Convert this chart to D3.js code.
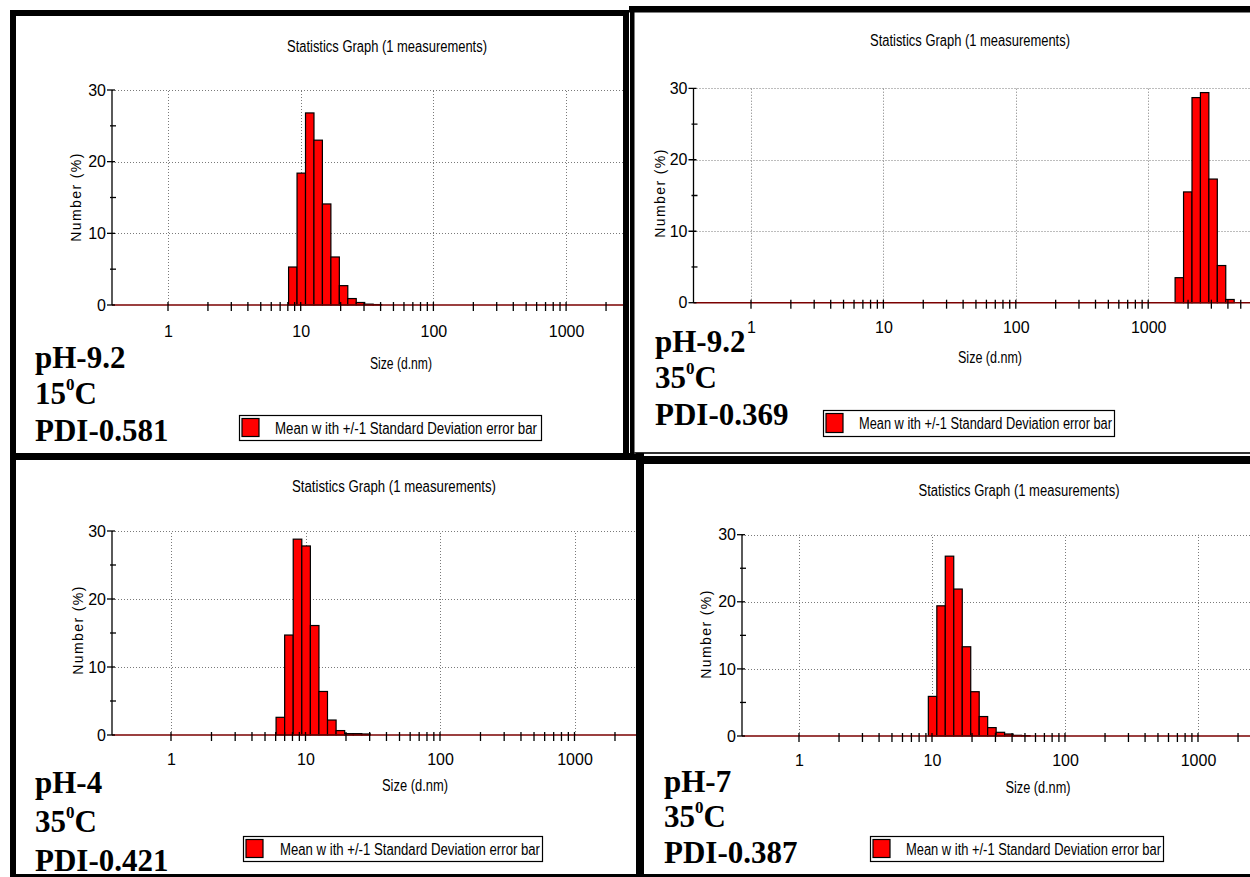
<!DOCTYPE html>
<html><head><meta charset="utf-8">
<script src="https://cdn.jsdelivr.net/npm/d3@7"></script>
<style>
body{margin:0;background:#fff;}
svg{display:block;}
</style></head><body>
<svg id="c" width="1250" height="877"></svg>
<script>
// ---------------- DATA ----------------
const chartTitle = "Statistics Graph (1 measurements)";
const xAxisTitle = "Size (d.nm)";
const yAxisTitle = "Number (%)";
const legendText = "Mean w ith +/-1 Standard Deviation error bar";
const yTickValues = [0, 10, 20, 30];
const yMinorTicks = [5, 15, 25];
const xTickLabels = [1, 10, 100, 1000];
const yGridValues = [10, 20, 30];

// Zetasizer size classes (d.nm) and Number (%) values
const p1Sizes  = [8.721, 10.10, 11.70, 13.54, 15.69, 18.17, 21.04, 24.36, 28.21, 32.67, 37.84];
const p1Values = [5.3, 18.4, 26.8, 23.0, 14.1, 6.7, 2.7, 0.9, 0.35, 0.12, 0.06];
const p1Labels = ["pH-9.2", "15", "PDI-0.581"];

const p2Sizes  = [1718, 1990, 2305, 2669, 3091, 3580, 4145];
const p2Values = [3.5, 15.5, 28.7, 29.4, 17.3, 5.2, 0.45];
const p2Labels = ["pH-9.2", "35", "PDI-0.369"];

const p3Sizes  = [6.503, 7.531, 8.721, 10.10, 11.70, 13.54, 15.69, 18.17, 21.04, 24.36, 28.21];
const p3Values = [2.6, 14.7, 28.8, 27.8, 16.1, 6.4, 2.2, 0.65, 0.2, 0.2, 0.15];
const p3Labels = ["pH-4", "35", "PDI-0.421"];

const p4Sizes  = [10.10, 11.70, 13.54, 15.69, 18.17, 21.04, 24.36, 28.21, 32.67, 37.84, 43.82, 50.75];
const p4Values = [5.9, 19.4, 26.8, 21.9, 13.3, 6.6, 2.9, 1.25, 0.55, 0.3, 0.1, 0.05];
const p4Labels = ["pH-7", "35", "PDI-0.387"];

// size class geometric step (70 classes 0.4 .. 10000 nm)
const classStep = Math.pow(10, Math.log10(10000 / 0.4) / 69);
const halfStep = Math.sqrt(classStep);

// ---------------- LAYOUT ----------------
const layout = [
  {x0:112, xOne:168, dec:132.7, y0:305, y30:90, clip:[16,16,623,453], xpad:21,
   title:[387,52], ylab:[76,197], xlab:[401,369], xlabLen:62, titleLen:200,
   leg:{x:239,y:415,w:302,h:25, tx:275, tlen:262},
   lab:{x:35, base:[368,404,441]}},
  {x0:693.5, xOne:751, dec:132.4, y0:302.7, y30:88.3, clip:[634,12.5,1250,452], xpad:19,
   title:[970,46], ylab:[660,193], xlab:[990,363], xlabLen:64, titleLen:200,
   leg:{x:823,y:410,w:291,h:26, tx:859, tlen:253},
   lab:{x:655, base:[352,388,425]}},
  {x0:112, xOne:171, dec:134.5, y0:735, y30:531, clip:[16,460,636,874], xpad:19,
   title:[394,492], ylab:[78,630], xlab:[415,791], xlabLen:66, titleLen:204,
   leg:{x:243,y:836,w:299,h:25, tx:280, tlen:260},
   lab:{x:35, base:[793,832,871]}},
  {x0:742, xOne:799, dec:133, y0:736, y30:534.7, clip:[644,464,1250,874], xpad:19,
   title:[1019,496], ylab:[706,634], xlab:[1038,793], xlabLen:65, titleLen:201,
   leg:{x:870,y:836,w:293,h:25, tx:906, tlen:255},
   lab:{x:664, base:[792,827,863]}}
];

const panelData = [
  {sizes:p1Sizes, values:p1Values, labels:p1Labels},
  {sizes:p2Sizes, values:p2Values, labels:p2Labels},
  {sizes:p3Sizes, values:p3Values, labels:p3Labels},
  {sizes:p4Sizes, values:p4Values, labels:p4Labels}
];

const NARROW = '"Liberation Sans Narrow","Arial Narrow","Liberation Sans",Arial,sans-serif';
const SANS = '"Liberation Sans",Arial,sans-serif';
const SERIF = '"Liberation Serif","Times New Roman",serif';

const svg = d3.select("#c");
svg.append("rect").attr("width",1250).attr("height",877).attr("fill","#fff");
const defs = svg.append("defs");

panelData.forEach((pd, i) => {
  const L = layout[i];
  const cid = "clip" + i;
  defs.append("clipPath").attr("id", cid).append("rect")
    .attr("x", L.clip[0]).attr("y", L.clip[1])
    .attr("width", L.clip[2] - L.clip[0]).attr("height", L.clip[3] - L.clip[1]);
  const g = svg.append("g").attr("clip-path", `url(#${cid})`);

  const xs = d3.scaleLog()
    .domain([Math.pow(10, (L.x0 - L.xOne) / L.dec), 10000])
    .range([L.x0, L.xOne + 4 * L.dec]);
  const ys = d3.scaleLinear().domain([0, 30]).range([L.y0, L.y30]);
  const xRight = xs.range()[1];

  // title
  g.append("text").attr("x", L.title[0]).attr("y", L.title[1])
    .attr("text-anchor","middle").attr("font-family",NARROW).attr("font-size",16)
    .attr("textLength", L.titleLen).attr("lengthAdjust","spacingAndGlyphs")
    .attr("fill","#000").text(chartTitle);

  // grid
  const grid = g.append("g").attr("stroke","#7a7a7a").attr("stroke-width",1).attr("stroke-dasharray","1,2");
  grid.selectAll("line.gx").data(xTickLabels).join("line")
    .attr("x1", d => Math.round(xs(d)) + 0.5).attr("x2", d => Math.round(xs(d)) + 0.5)
    .attr("y1", ys(0)).attr("y2", ys(30));
  grid.selectAll("line.gy").data(yGridValues).join("line")
    .attr("x1", L.x0).attr("x2", xRight)
    .attr("y1", d => Math.round(ys(d)) + 0.5).attr("y2", d => Math.round(ys(d)) + 0.5);

  // bars
  g.append("g").selectAll("rect").data(pd.sizes.map((s, k) => ({s, v: pd.values[k]}))).join("rect")
    .attr("x", d => xs(d.s / halfStep))
    .attr("width", d => xs(d.s * halfStep) - xs(d.s / halfStep))
    .attr("y", d => ys(d.v))
    .attr("height", d => ys(0) - ys(d.v))
    .attr("fill", "#ff0000").attr("stroke", "#000").attr("stroke-width", 1.2);

  // x axis baseline (maroon) and ticks
  g.append("line").attr("x1", L.x0).attr("x2", xRight).attr("y1", ys(0)).attr("y2", ys(0))
    .attr("stroke", "#7a0000").attr("stroke-width", 1.6);
  const xt = xs.ticks().filter(v => v >= 1 && v <= 10000);
  g.append("g").selectAll("line").data(xt).join("line")
    .attr("x1", d => xs(d)).attr("x2", d => xs(d))
    .attr("y1", ys(0) - 3).attr("y2", ys(0) + 6)
    .attr("stroke", "#000").attr("stroke-width", 1.3);
  const xAxis = d3.axisBottom(xs).tickValues(xTickLabels).tickSize(0).tickPadding(L.xpad)
    .tickFormat(d3.format("d"));
  const gx = g.append("g").attr("transform", `translate(0,${ys(0)})`).call(xAxis);
  gx.select(".domain").remove();
  gx.selectAll("text").attr("font-family", NARROW).attr("font-size", 16).attr("fill", "#000");

  // y axis
  g.append("line").attr("x1", L.x0).attr("x2", L.x0).attr("y1", ys(0)).attr("y2", ys(30))
    .attr("stroke", "#000").attr("stroke-width", 1.3);
  g.append("g").selectAll("line").data(yTickValues).join("line")
    .attr("x1", L.x0 - 5).attr("x2", L.x0 + 3)
    .attr("y1", d => ys(d)).attr("y2", d => ys(d)).attr("stroke", "#000").attr("stroke-width", 1.3);
  g.append("g").selectAll("line").data(yMinorTicks).join("line")
    .attr("x1", L.x0 - 2).attr("x2", L.x0 + 4)
    .attr("y1", d => ys(d)).attr("y2", d => ys(d)).attr("stroke", "#000").attr("stroke-width", 1.3);
  const yAxis = d3.axisLeft(ys).tickValues(yTickValues).tickSize(0).tickPadding(6)
    .tickFormat(d3.format("d"));
  const gy = g.append("g").attr("transform", `translate(${L.x0},0)`).call(yAxis);
  gy.select(".domain").remove();
  gy.selectAll("text").attr("font-family", NARROW).attr("font-size", 16).attr("fill", "#000");

  // axis titles
  g.append("text").attr("transform", `translate(${L.ylab[0]},${L.ylab[1]}) rotate(-90)`)
    .attr("text-anchor", "middle").attr("dominant-baseline", "central")
    .attr("font-family", SANS).attr("font-size", 14).attr("letter-spacing", 1.4)
    .attr("fill", "#000").text(yAxisTitle);
  g.append("text").attr("x", L.xlab[0]).attr("y", L.xlab[1]).attr("text-anchor", "middle")
    .attr("font-family", NARROW).attr("font-size", 16)
    .attr("textLength", L.xlabLen).attr("lengthAdjust", "spacingAndGlyphs")
    .attr("fill", "#000").text(xAxisTitle);

  // legend
  const lg = g.append("g");
  lg.append("rect").attr("x", L.leg.x + 0.5).attr("y", L.leg.y + 0.5).attr("width", L.leg.w).attr("height", L.leg.h)
    .attr("fill", "#fff").attr("stroke", "#000").attr("stroke-width", 1.2);
  lg.append("rect").attr("x", L.leg.x + 3).attr("y", L.leg.y + 3.5).attr("width", 17).attr("height", L.leg.h - 7)
    .attr("fill", "#ff0000").attr("stroke", "#000").attr("stroke-width", 1.2);
  lg.append("text").attr("x", L.leg.tx).attr("y", L.leg.y + L.leg.h / 2 + 6)
    .attr("font-family", NARROW).attr("font-size", 16)
    .attr("textLength", L.leg.tlen).attr("lengthAdjust", "spacingAndGlyphs")
    .attr("fill", "#000").text(legendText);

  // bold sample labels
  const tb = g.append("g").attr("font-family", SERIF).attr("font-weight", "bold").attr("fill", "#000");
  tb.append("text").attr("x", L.lab.x).attr("y", L.lab.base[0]).attr("font-size", 31).text(pd.labels[0]);
  const t2 = tb.append("text").attr("x", L.lab.x).attr("y", L.lab.base[1]).attr("font-size", 31);
  t2.append("tspan").text(pd.labels[1]);
  t2.append("tspan").attr("font-size", 17).attr("dy", -14).text("0");
  t2.append("tspan").attr("dy", 14).text("C");
  tb.append("text").attr("x", L.lab.x).attr("y", L.lab.base[2]).attr("font-size", 31).text(pd.labels[2]);
});

// ---------------- PANEL FRAMES ----------------
const frames = svg.append("g").attr("fill", "#000");
// panel 1
frames.append("rect").attr("x", 10).attr("y", 10).attr("width", 619).attr("height", 6);
frames.append("rect").attr("x", 10).attr("y", 10).attr("width", 6).attr("height", 450);
frames.append("rect").attr("x", 623).attr("y", 10).attr("width", 6).attr("height", 450);
frames.append("rect").attr("x", 10).attr("y", 453).attr("width", 634).attr("height", 7);
// panel 2
frames.append("rect").attr("x", 629).attr("y", 6).attr("width", 621).attr("height", 6.5);
frames.append("rect").attr("x", 630).attr("y", 6).attr("width", 4.5).attr("height", 448);
frames.append("rect").attr("x", 634).attr("y", 452).attr("width", 616).attr("height", 2).attr("fill", "#333");
// panel 3
frames.append("rect").attr("x", 10).attr("y", 453).attr("width", 6).attr("height", 424);
frames.append("rect").attr("x", 636).attr("y", 453).attr("width", 8).attr("height", 424);
frames.append("rect").attr("x", 10).attr("y", 874).attr("width", 1240).attr("height", 3);
// panel 4
frames.append("rect").attr("x", 636).attr("y", 456).attr("width", 614).attr("height", 8);
</script>
</body></html>
